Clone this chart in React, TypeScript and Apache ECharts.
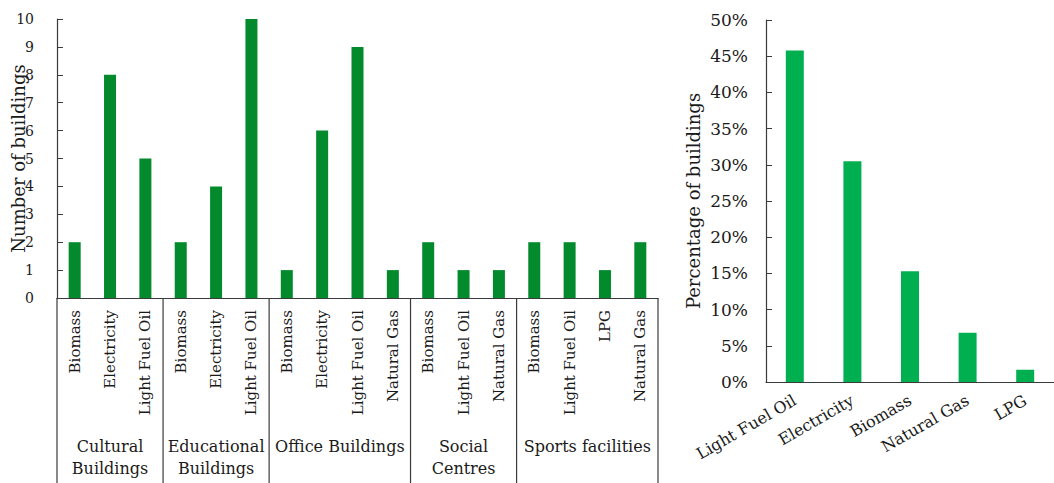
import React, { useEffect, useRef } from "react";
import * as echarts from "echarts";

const leftCategories = [
  "Biomass", "Electricity", "Light Fuel Oil",
  "Biomass", "Electricity", "Light Fuel Oil",
  "Biomass", "Electricity", "Light Fuel Oil", "Natural Gas",
  "Biomass", "Light Fuel Oil", "Natural Gas",
  "Biomass", "Light Fuel Oil", "LPG", "Natural Gas",
];
const leftValues = [2, 8, 5, 2, 4, 10, 1, 6, 9, 1, 2, 1, 1, 2, 2, 1, 2];
const groupLabels = [
  "Cultural\nBuildings",
  "Educational\nBuildings",
  "Office Buildings",
  "Social\nCentres",
  "Sports facilities",
];
const groupSizes = [3, 3, 4, 3, 4];

const rightCategories = ["Light Fuel Oil", "Electricity", "Biomass", "Natural Gas", "LPG"];
const rightValues = [45.8, 30.5, 15.3, 6.8, 1.7];

const FONT = "DejaVu Serif";
const TEXT = "#1a1a1a";
const AXIS = "#3a3a3a";

export default function App() {
  const ref = useRef<HTMLDivElement>(null);
  useEffect(() => {
    if (!ref.current) return;
    const chart = echarts.init(ref.current, undefined, { renderer: "svg" });
    chart.setOption({
      animation: false,
      textStyle: { fontFamily: FONT, color: TEXT },
      grid: [
        { left: 57, right: 396, top: 19, bottom: 185, outerBoundsMode: "none", containLabel: false },
        { left: 766, right: 0, top: 20, bottom: 101, outerBoundsMode: "none", containLabel: false },
      ],
      xAxis: [
        {
          type: "category",
          gridIndex: 0,
          data: leftCategories,
          axisLine: { lineStyle: { color: AXIS, width: 1.2 } },
          axisTick: { show: false },
          axisLabel: {
            rotate: 90,
            margin: 12,
            interval: 0,
            fontFamily: FONT,
            fontSize: 15,
            color: TEXT,
          },
        },
        {
          type: "category",
          gridIndex: 1,
          data: rightCategories,
          axisLine: { lineStyle: { color: AXIS, width: 1.2 } },
          axisTick: { show: false },
          axisLabel: {
            rotate: 30,
            margin: 17,
            interval: 0,
            fontFamily: FONT,
            fontSize: 16,
            color: TEXT,
          },
        },
      ],
      yAxis: [
        {
          type: "value",
          gridIndex: 0,
          min: 0,
          max: 10,
          interval: 1,
          name: "Number of buildings",
          nameLocation: "middle",
          nameRotate: 90,
          nameGap: 30,
          nameMoveOverlap: false,
          nameTextStyle: { fontFamily: FONT, fontSize: 18, color: TEXT },
          axisLine: { show: true, lineStyle: { color: AXIS, width: 1.2 } },
          axisTick: { show: true, inside: true, length: 6, lineStyle: { color: AXIS } },
          splitLine: { show: false },
          axisLabel: { margin: 23, fontFamily: FONT, fontSize: 14, color: TEXT },
        },
        {
          type: "value",
          gridIndex: 1,
          min: 0,
          max: 50,
          interval: 5,
          name: "Percentage of buildings",
          nameLocation: "middle",
          nameRotate: 90,
          nameGap: 64,
          nameMoveOverlap: false,
          nameTextStyle: { fontFamily: FONT, fontSize: 18, color: TEXT },
          axisLine: { show: true, lineStyle: { color: AXIS, width: 1.2 } },
          axisTick: { show: true, inside: true, length: 6, lineStyle: { color: AXIS } },
          splitLine: { show: false },
          axisLabel: {
            margin: 18,
            fontFamily: FONT,
            fontSize: 17,
            color: TEXT,
            formatter: "{value}%",
          },
        },
      ],
      series: [
        {
          type: "bar",
          xAxisIndex: 0,
          yAxisIndex: 0,
          data: leftValues,
          barWidth: 12,
          itemStyle: { color: "#028A2C" },
        },
        {
          type: "bar",
          xAxisIndex: 1,
          yAxisIndex: 1,
          data: rightValues,
          barWidth: 18,
          itemStyle: { color: "#00B050" },
        },
      ],
    });

    const c0 = chart.convertToPixel({ xAxisIndex: 0 }, 0) as number;
    const c1 = chart.convertToPixel({ xAxisIndex: 0 }, 1) as number;
    const y0 = chart.convertToPixel({ yAxisIndex: 0 }, 0) as number;
    const w = c1 - c0;
    const start = c0 - w / 2;
    const bottom = 483;
    const elements: any[] = [];
    let k = 0;
    elements.push({
      type: "line",
      shape: { x1: start, y1: y0, x2: start, y2: bottom },
      style: { stroke: AXIS, lineWidth: 1.2 },
    });
    groupSizes.forEach((size, i) => {
      const cx = start + (k + size / 2) * w;
      elements.push({
        type: "text",
        x: cx,
        y: y0 + 137,
        style: {
          text: groupLabels[i],
          fontFamily: FONT,
          fontSize: 16,
          fill: TEXT,
          align: "center",
          verticalAlign: "top",
          lineHeight: 22,
        },
      });
      k += size;
      const bx = start + k * w;
      elements.push({
        type: "line",
        shape: { x1: bx, y1: y0, x2: bx, y2: bottom },
        style: { stroke: AXIS, lineWidth: 1.2 },
      });
    });
    chart.setOption({ graphic: elements });

    return () => chart.dispose();
  }, []);
  return (
    <div
      ref={ref}
      style={{ position: "absolute", left: 0, top: 0, width: 1054, height: 483, background: "#fff" }}
    />
  );
}
